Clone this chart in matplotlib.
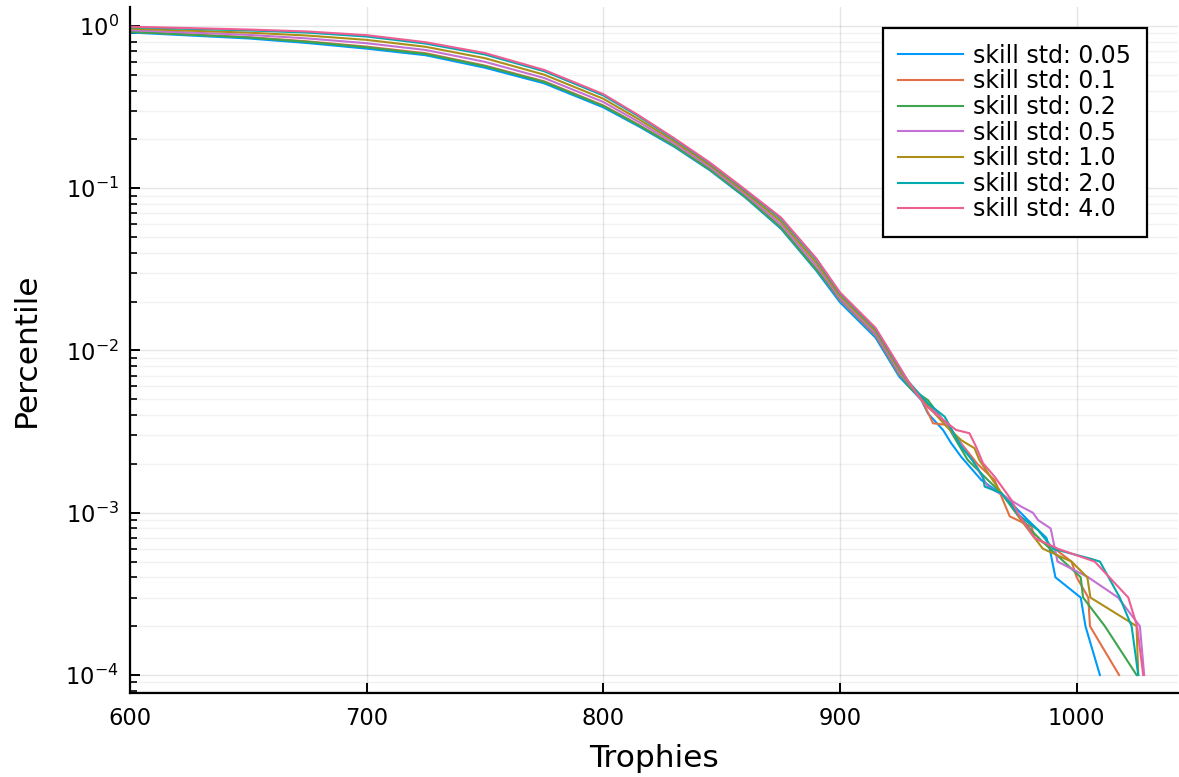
import matplotlib
matplotlib.use("Agg")
import matplotlib.pyplot as plt
from matplotlib.ticker import LogLocator, LogFormatterMathtext, NullFormatter, FixedLocator

plt.rcParams['font.family'] = ['DejaVu Sans']

labels = ["skill std: 0.05", "skill std: 0.1", "skill std: 0.2", "skill std: 0.5",
          "skill std: 1.0", "skill std: 2.0", "skill std: 4.0"]
colors = ["#009AFA", "#E36F47", "#3EA44E", "#C371D2", "#AC8E18", "#00AAAE", "#ED5E93"]

# Shared trophy grid for the smooth part
trophies_main = [600, 650, 675, 700, 725, 750, 775, 800, 815, 830, 845, 860, 875, 890, 900, 915, 925]

main_005 = [0.912, 0.838, 0.785, 0.725, 0.660, 0.553, 0.443, 0.315, 0.2404, 0.180, 0.129, 0.0876, 0.0564, 0.031, 0.0198, 0.0120, 0.0069]
main_01 = [0.923, 0.854, 0.804, 0.746, 0.679, 0.570, 0.456, 0.324, 0.246, 0.1834, 0.1312, 0.0891, 0.0578, 0.0318, 0.0205, 0.0124, 0.0071]
main_02 = [0.920, 0.849, 0.798, 0.739, 0.672, 0.565, 0.452, 0.321, 0.244, 0.1823, 0.1305, 0.0886, 0.0573, 0.0315, 0.0208, 0.0126, 0.0072]
main_05 = [0.942, 0.882, 0.838, 0.783, 0.711, 0.601, 0.478, 0.340, 0.256, 0.189, 0.1349, 0.0917, 0.0601, 0.0332, 0.0210, 0.01269, 0.00732]
main_10 = [0.962, 0.910, 0.873, 0.821, 0.744, 0.633, 0.501, 0.356, 0.266, 0.1947, 0.1387, 0.0942, 0.0625, 0.0347, 0.0217, 0.01314, 0.0076]
main_20 = [0.982, 0.939, 0.910, 0.861, 0.779, 0.667, 0.526, 0.373, 0.277, 0.2005, 0.1426, 0.0969, 0.0650, 0.0363, 0.0225, 0.0136, 0.00788]
main_40 = [0.990, 0.951, 0.925, 0.878, 0.794, 0.681, 0.536, 0.380, 0.281, 0.203, 0.144, 0.098, 0.0661, 0.0369, 0.0228, 0.0138, 0.0080]

# Tails (trophies, percentile)
tail_x_005 = [934.4, 937.1, 943.5, 947.0, 951.2, 959.7, 969.6, 979.4, 987.2, 988.6, 991.0, 1001.7, 1003.7, 1009.8]
tail_y_005 = [0.00495, 0.0041, 0.00324, 0.00268, 0.00221, 0.00159, 0.00126, 0.0009, 0.0007, 0.0006, 0.0004, 0.0003, 0.0002, 0.0001]

tail_x_01 = [929.0, 935.0, 939.3, 945.6, 951.0, 958.0, 965.3, 968.8, 971.7, 980.9, 982.3, 990.7, 997.8, 1000.0, 1004.9, 1005.6, 1017.9]
tail_y_01 = [0.0062, 0.00483, 0.00356, 0.00347, 0.0027, 0.0020, 0.00159, 0.0012, 0.00095, 0.00082, 0.0007, 0.0006, 0.0005, 0.0004, 0.0003, 0.0002, 0.0001]

tail_x_02 = [930.0, 937.1, 945.6, 954.0, 962.5, 969.6, 976.0, 980.0, 985.7, 992.1, 1001.7, 1002.7, 1011.9, 1025.3]
tail_y_02 = [0.0058, 0.00495, 0.00339, 0.00211, 0.00159, 0.00126, 0.00095, 0.0008, 0.00066, 0.00054, 0.0004, 0.0003, 0.0002, 0.0001]

tail_x_05 = [930.0, 937.7, 943.5, 950.0, 956.0, 962.5, 970.0, 976.6, 981.5, 983.7, 989.0, 991.9, 1004.9, 1017.5, 1026.7, 1028.5]
tail_y_05 = [0.0060, 0.00461, 0.00373, 0.0028, 0.0021, 0.00145, 0.00125, 0.00109, 0.001, 0.0009, 0.0008, 0.0005, 0.0004, 0.0003, 0.0002, 0.0001]

tail_x_10 = [929.0, 939.3, 945.0, 951.2, 956.8, 958.9, 968.2, 977.0, 985.7, 997.8, 1004.5, 1005.8, 1025.3, 1026.0]
tail_y_10 = [0.0063, 0.0042, 0.0034, 0.0028, 0.0025, 0.00211, 0.00132, 0.00088, 0.0006, 0.0005, 0.0004, 0.0003, 0.0002, 0.0001]

tail_x_20 = [929.0, 937.1, 944.2, 951.2, 956.0, 960.4, 961.1, 968.2, 975.0, 983.7, 990.0, 1006.0, 1009.8, 1018.2, 1023.2, 1026.0]
tail_y_20 = [0.0064, 0.00472, 0.00391, 0.00255, 0.0021, 0.00167, 0.00145, 0.00132, 0.00098, 0.00078, 0.0006, 0.00052, 0.0005, 0.0003, 0.0002, 0.0001]

tail_x_40 = [928.4, 936.0, 945.4, 949.0, 954.7, 957.5, 960.4, 965.3, 972.4, 975.2, 982.2, 992.0, 1007.6, 1021.8, 1025.5, 1028.1]
tail_y_40 = [0.0066, 0.0046, 0.00356, 0.00324, 0.00309, 0.00255, 0.00202, 0.00167, 0.0012, 0.00099, 0.0007, 0.0006, 0.0005, 0.0003, 0.0002, 0.0001]

series = [
    (main_005, tail_x_005, tail_y_005),
    (main_01, tail_x_01, tail_y_01),
    (main_02, tail_x_02, tail_y_02),
    (main_05, tail_x_05, tail_y_05),
    (main_10, tail_x_10, tail_y_10),
    (main_20, tail_x_20, tail_y_20),
    (main_40, tail_x_40, tail_y_40),
]

xticks = [600, 700, 800, 900, 1000]

W, H = 1179, 777
fig = plt.figure(figsize=(W / 100, H / 100), dpi=100)
ax = fig.add_axes([130 / W, (H - 693) / H, (1178 - 130) / W, (693 - 7) / H])

for (m, tx, ty), lab, col in zip(series, labels, colors):
    ax.plot(trophies_main + tx, m + ty, color=col, lw=1.5, label=lab)

ax.set_yscale('log')
ax.set_xlim(600, 1042.8)
ax.set_ylim(10 ** -4.111, 10 ** 0.117)

ax.xaxis.set_major_locator(FixedLocator(xticks))
ax.yaxis.set_major_locator(LogLocator(base=10, numticks=10))
ax.yaxis.set_minor_locator(LogLocator(base=10, subs=range(2, 10), numticks=20))
ax.yaxis.set_major_formatter(LogFormatterMathtext())
ax.yaxis.set_minor_formatter(NullFormatter())

ax.grid(True, which='major', axis='both', color='#000000', alpha=0.1, lw=1.0)
ax.grid(True, which='minor', axis='y', color='#000000', alpha=0.05, lw=1.0)
ax.set_axisbelow(True)

for s in ['top', 'right']:
    ax.spines[s].set_visible(False)
for s in ['left', 'bottom']:
    ax.spines[s].set_linewidth(1.6)
    ax.spines[s].set_color('black')

ax.tick_params(axis='x', which='major', direction='in', length=7.5, width=1.4,
               labelsize=16.3, pad=10, colors='black')
ax.tick_params(axis='y', which='major', direction='in', length=7.5, width=1.4,
               labelsize=16.3, pad=8, colors='black')
ax.tick_params(axis='y', which='minor', direction='in', length=5, width=1.2)
ax.tick_params(axis='x', which='minor', length=0)

ax.set_xlabel('Trophies', fontsize=22.5, labelpad=10)
ax.set_ylabel('Percentile', fontsize=22.5, labelpad=18)

leg = ax.legend(loc='upper right', bbox_to_anchor=(0.970, 0.9694), borderaxespad=0,
                fontsize=17, frameon=True, fancybox=False, framealpha=1,
                edgecolor='black', handlelength=2.75, handletextpad=0.42,
                labelspacing=0.07, borderpad=0.66)
leg.get_frame().set_linewidth(1.6)

fig.savefig('out.png', dpi=100)
